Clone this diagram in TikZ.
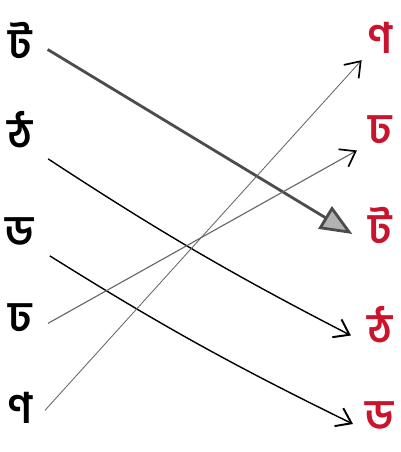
\documentclass[tikz,border=0pt]{standalone}
\usepackage{fontspec}
\newfontfamily\bnfont[Script=Bengali]{Hind Siliguri}
\usepackage{tikz}
\usetikzlibrary{arrows.meta}
\definecolor{bnred}{RGB}{200,20,45}
\begin{document}
\begin{tikzpicture}[
  x=0.025cm, y=-0.025cm,
  lft/.style={font=\bnfont\bfseries\fontsize{30}{34}\selectfont, inner sep=0pt},
  rgt/.style={lft, text=bnred},
  bigarr/.style={-{Triangle[length=8mm, width=6.5mm, fill=gray!60]}, line width=2pt, draw=black!70},
  arr/.style={-{Straight Barb[length=3.5mm, width=5mm, line width=1.4pt]}, line width=1pt},
  trace/.style={-{Straight Barb[length=3.5mm, width=5mm, line width=1.2pt, black]}, line width=0.8pt, draw=black!60}
]
\useasboundingbox (0,0) rectangle (400,452);
% left column
\node[lft] (l1) at (20,40) {ট};
\node[lft] (l2) at (20,130) {ঠ};
\node[lft] (l3) at (20,232) {ড};
\node[lft] (l4) at (20,318) {ঢ};
\node[lft] (l5) at (20,408) {ণ};
% right column
\node[rgt] (r1) at (380,38) {ণ};
\node[rgt] (r2) at (380,130) {ঢ};
\node[rgt] (r3) at (380,225) {ট};
\node[rgt] (r4) at (380,325) {ঠ};
\node[rgt] (r5) at (380,416) {ড};
% matching
\draw[bigarr, shorten <=13pt, shorten >=13pt] (l1.east) -- (r3.south west);
\draw[arr, shorten <=13pt, shorten >=13pt] (l2.south east) to[bend right=3] (r4.south west);
\draw[arr, shorten <=13pt, shorten >=10pt] (l3.south east) to[bend right=3] (r5.south west);
\draw[trace, shorten <=13pt, shorten >=9pt] (l4.south east) -- (r2.south west);
\draw[trace, line width=0.6pt, shorten <=13pt, shorten >=6pt] (l5.south east) -- (r1.south west);
\end{tikzpicture}
\end{document}
